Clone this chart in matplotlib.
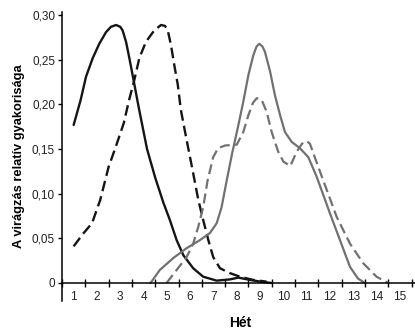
import matplotlib
matplotlib.use("Agg")
import matplotlib.pyplot as plt
from matplotlib import ticker

plt.rcParams['font.family'] = ['Liberation Sans', 'DejaVu Sans']

# hetek (a het kozepe egesz szamra esik)
het_cimkek = [str(i) for i in range(1, 16)]
y_ertekek = [0, 0.05, 0.10, 0.15, 0.20, 0.25, 0.30]
y_cimkek = ["0", "0,05", "0,10", "0,15", "0,20", "0,25", "0,30"]

# fekete folytonos
fekete_x = [1.0, 1.3, 1.53, 1.82, 2.1, 2.39, 2.6, 2.82, 3.0, 3.1, 3.25, 3.39, 3.53, 3.79, 4.15, 4.5,
            4.85, 5.13, 5.42, 5.71, 6.13, 6.56, 7.14, 7.71, 8.07, 8.57, 9.14, 9.5]
fekete_y = [0.177, 0.205, 0.231, 0.252, 0.268, 0.281, 0.287, 0.289, 0.287, 0.283, 0.270, 0.252,
            0.233, 0.197, 0.150, 0.118, 0.090, 0.0705, 0.048, 0.031, 0.0165, 0.007, 0.0026, 0.004,
            0.006, 0.0034, 0.001, 0.0]

# fekete szaggatott
fekete_sz_x = [1.0, 1.4, 1.79, 2.14, 2.5, 2.8, 3.15, 3.38, 3.6, 3.82, 4.1, 4.46, 4.75, 4.92, 5.04,
               5.18, 5.32, 5.47, 5.6, 5.85, 6.1, 6.35, 6.56, 6.78, 6.99, 7.28, 7.71, 8.14, 8.71, 9.28]
fekete_sz_y = [0.041, 0.055, 0.067, 0.093, 0.130, 0.152, 0.179, 0.205, 0.227, 0.252, 0.270, 0.283,
               0.289, 0.288, 0.283, 0.266, 0.244, 0.222, 0.194, 0.160, 0.127, 0.093, 0.0705, 0.048,
               0.029, 0.0165, 0.011, 0.007, 0.0034, 0.0015]

# szurke folytonos
szurke_x = [4.3, 4.7, 5.28, 5.85, 6.42, 6.85, 7.14, 7.35, 7.57, 7.8, 8.07, 8.28, 8.5, 8.71, 8.85,
            8.97, 9.1, 9.21, 9.43, 9.64, 9.86, 10.07, 10.36, 10.71, 11.07, 11.43, 12.0, 12.43,
            12.86, 13.2, 13.5]
szurke_y = [0.0, 0.0146, 0.028, 0.039, 0.048, 0.056, 0.067, 0.085, 0.115, 0.145, 0.177, 0.203,
            0.233, 0.255, 0.265, 0.268, 0.265, 0.259, 0.237, 0.210, 0.188, 0.169, 0.158, 0.151,
            0.141, 0.119, 0.078, 0.048, 0.018, 0.005, 0.0]

# szurke szaggatott
szurke_sz_x = [4.99, 5.42, 5.85, 6.13, 6.35, 6.56, 6.75, 6.99, 7.2, 7.5, 8.0, 8.28, 8.5, 8.7, 8.86,
               9.07, 9.28, 9.5, 9.78, 10.0, 10.3, 10.57, 10.8, 11.0, 11.14, 11.36, 11.71, 12.29,
               12.86, 13.43, 14.0, 14.5]
szurke_sz_y = [0.0, 0.0146, 0.029, 0.044, 0.063, 0.085, 0.115, 0.141, 0.151, 0.154, 0.155, 0.169,
               0.188, 0.202, 0.207, 0.205, 0.192, 0.169, 0.147, 0.136, 0.131, 0.147, 0.156, 0.159,
               0.156, 0.140, 0.115, 0.074, 0.044, 0.022, 0.007, 0.0]

fig = plt.figure(figsize=(4.15, 3.35), dpi=100)
ax = fig.add_axes([62 / 415, 0.1015, 1 - 62 / 415, 0.8625])

fekete = '#151515'
szurke = '#717171'
ax.plot(fekete_x, fekete_y, color=fekete, lw=1.7, solid_capstyle='round', solid_joinstyle='round')
ax.plot(fekete_sz_x, fekete_sz_y, color=fekete, lw=1.7, dashes=(4.5, 2.2))
ax.plot(szurke_x, szurke_y, color=szurke, lw=1.6, solid_capstyle='round', solid_joinstyle='round')
ax.plot(szurke_sz_x, szurke_sz_y, color=szurke, lw=1.6, dashes=(4.5, 2.2))

ax.set_xlim(0.5, 15.65)
ax.set_ylim(-0.0202, 0.3035)

ax.spines['top'].set_visible(False)
ax.spines['right'].set_visible(False)
ax.spines['bottom'].set_position(('data', 0))
ax.spines['left'].set_linewidth(1.1)
ax.spines['bottom'].set_linewidth(1.1)

# x tengely: vonalkak a hetek hataran, feliratok a het kozepen
ax.xaxis.set_major_locator(ticker.FixedLocator([i + 0.5 for i in range(0, 16)]))
ax.xaxis.set_major_formatter(ticker.NullFormatter())
ax.xaxis.set_minor_locator(ticker.FixedLocator(range(1, 16)))
ax.xaxis.set_minor_formatter(ticker.FixedFormatter(het_cimkek))
ax.tick_params(axis='x', which='major', direction='inout', length=6, width=1.0)
ax.tick_params(axis='x', which='minor', length=0, pad=6, labelsize=8.5, labelcolor='#222222')

ax.set_yticks(y_ertekek)
ax.set_yticklabels(y_cimkek)
ax.tick_params(axis='y', direction='out', length=3, width=1.0, pad=2, labelsize=8.5,
               labelcolor='#222222')

ax.set_ylabel('A virágzás relatív gyakorisága', fontsize=9.3, fontweight='bold', labelpad=5)
fig.text(240 / 415, 1 - 323 / 335, 'Hét', fontsize=10, fontweight='bold', ha='center', va='center')

fig.savefig('out.png', dpi=100)
